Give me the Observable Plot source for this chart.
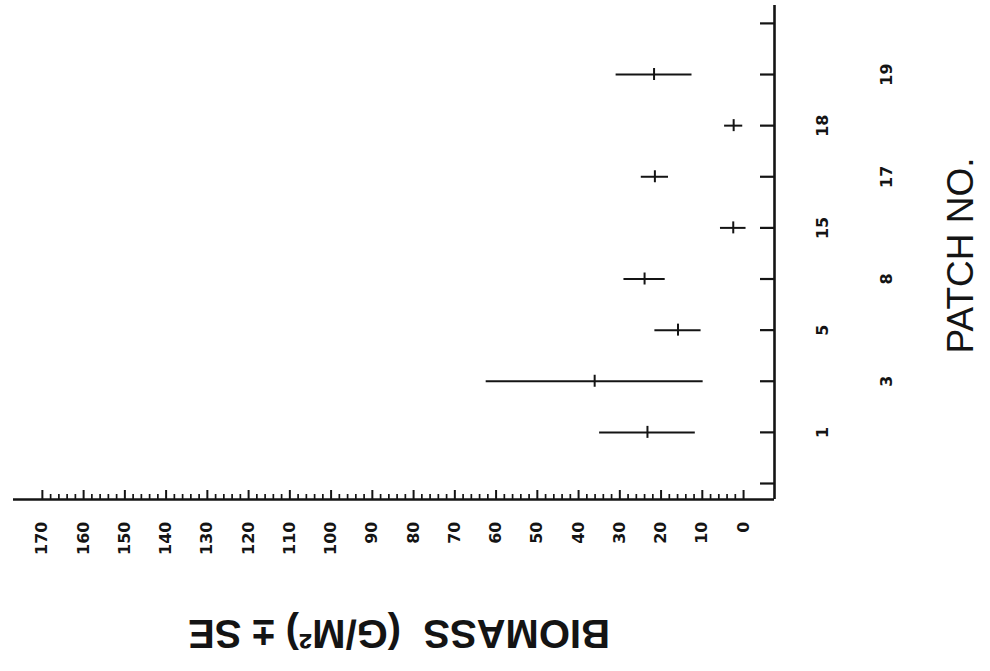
<!DOCTYPE html>
<html><head><meta charset="utf-8">
<script src="https://cdn.jsdelivr.net/npm/d3@7"></script>
<script src="https://cdn.jsdelivr.net/npm/@observablehq/plot@0.6"></script>
<style>html,body{margin:0;padding:0;background:#fff;} #chart svg{display:block}</style>
</head><body><div id="chart"></div>
<script>
// Data read from the (rotated) figure
const patches = ["1", "3", "5", "8", "15", "17", "18", "19"];
const means   = [23.3, 36.1, 15.9, 24.0, 2.5, 21.5, 2.4, 21.7];
const errors  = [11.6, 26.3, 5.6, 5.0, 3.1, 3.3, 2.2, 9.2];
const majorTicks = d3.range(0, 171, 10);
const minorTicks = d3.range(2, 170, 2).filter(v => v % 10 !== 0);
const slotTicks = d3.range(0, 10); // slots 0 and 9 are empty tick positions
const xTitle = "BIOMASS  (G/M²) ± SE";
const yTitle = "PATCH NO.";

const xDomain = [-7.5, 177];
const yDomain = [-0.313, 9.35];

const rows = patches.map((p, k) => ({
  patch: p, slot: k + 1, mean: means[k],
  lo: means[k] - errors[k], hi: means[k] + errors[k]
}));

const ink = "#141414";
const numFont = {fontSize: 16, fontWeight: "bold", fontFamily: "DejaVu Sans"};

const chart = Plot.plot({
  width: 990, height: 671,
  marginLeft: 13, marginRight: 216, marginTop: 5, marginBottom: 172,
  style: {background: "#fff", color: ink},
  x: {domain: xDomain, reverse: true, axis: null},
  y: {domain: yDomain, axis: null},
  marks: [
    // axis lines
    Plot.ruleY([yDomain[0]], {stroke: ink, strokeWidth: 2.6}),
    Plot.ruleX([xDomain[0]], {stroke: ink, strokeWidth: 2.6}),
    // biomass ticks (pointing up, inside)
    Plot.axisX(majorTicks, {anchor: "bottom", tickSize: 9, dy: -9, fill: "none", stroke: ink, strokeWidth: 2, label: null}),
    Plot.axisX(minorTicks, {anchor: "bottom", tickSize: 5, dy: -5, fill: "none", stroke: ink, strokeWidth: 1.7, label: null}),
    Plot.axisX(majorTicks, {anchor: "bottom", tickSize: 0, tickPadding: 22, tickRotate: -90, stroke: "none", fill: ink, label: null, ...numFont}),
    // patch ticks (pointing left, inside)
    Plot.axisY(slotTicks, {anchor: "right", tickSize: 15, dx: -15, fill: "none", stroke: ink, strokeWidth: 2.2, label: null}),
    // error bars
    Plot.ruleY(rows, {y: "slot", x1: "lo", x2: "hi", stroke: ink, strokeWidth: 2}),
    Plot.ruleX(rows, {x: "mean", y1: "slot", y2: "slot", insetTop: -6, insetBottom: -6, stroke: ink, strokeWidth: 2}),
    // patch labels, staggered
    Plot.text(rows.filter(d => d.slot % 2 === 1), {y: "slot", text: "patch", frameAnchor: "right", dx: 48, rotate: -90, textAnchor: "middle", lineAnchor: "middle", fill: ink, ...numFont}),
    Plot.text(rows.filter(d => d.slot % 2 === 0), {y: "slot", text: "patch", frameAnchor: "right", dx: 112, rotate: -90, textAnchor: "middle", lineAnchor: "middle", fill: ink, ...numFont}),
    // axis titles
    Plot.text([yTitle], {text: d => d, frameAnchor: "right", dx: 187, dy: 3, rotate: -90, textAnchor: "middle", lineAnchor: "middle", fontSize: 37, fontFamily: "Liberation Sans", fill: ink}),
    Plot.text([xTitle], {text: d => d, frameAnchor: "bottom", dx: 5, dy: 133, rotate: 180, textAnchor: "middle", lineAnchor: "middle", fontSize: 40, fontWeight: "bold", fontFamily: "Liberation Sans", fill: ink})
  ]
});
document.getElementById("chart").append(chart);
</script>
</body></html>
